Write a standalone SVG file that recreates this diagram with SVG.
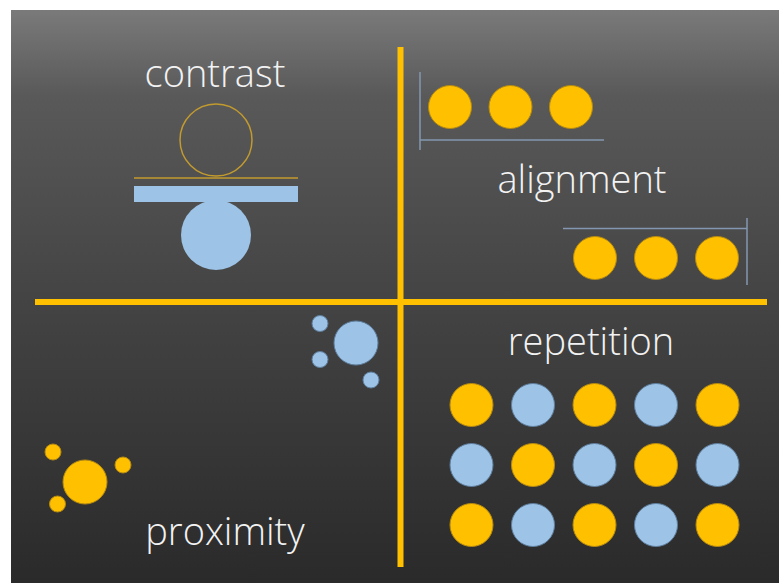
<svg xmlns="http://www.w3.org/2000/svg" width="779" height="583" viewBox="0 0 779 583">
<defs>
<linearGradient id="bg" x1="0" y1="0" x2="0" y2="1">
<stop offset="0" stop-color="#7a7a7a"/>
<stop offset="0.15" stop-color="#595959"/>
<stop offset="0.5" stop-color="#444444"/>
<stop offset="1" stop-color="#2a2a2a"/>
</linearGradient>
<style>
.lbl{font-family:"Open Sans","Liberation Sans",sans-serif;font-weight:300;font-size:38px;fill:#f2f2f2;text-anchor:middle}
.y{fill:#ffc000;stroke:#b58a10;stroke-width:1}
.b{fill:#9dc3e6;stroke:#5f7f9f;stroke-width:1}
.axis{stroke:#ffc000;stroke-width:6}
.guide{stroke:#8497b0;stroke-width:1.5;fill:none}
</style>
</defs>
<rect x="0" y="0" width="779" height="583" fill="#ffffff"/>
<rect x="11" y="10" width="768" height="573" fill="url(#bg)"/>
<g id="axes">
<line class="axis" x1="400.5" y1="47" x2="400.5" y2="567"/>
<line class="axis" x1="35" y1="302" x2="767" y2="302"/>
</g>
<g id="contrast">
<text class="lbl" x="215" y="87">contrast</text>
<circle cx="216" cy="140" r="36" fill="none" stroke="#c29a2e" stroke-width="1.5"/>
<line x1="134" y1="178" x2="298" y2="178" stroke="#c29a2e" stroke-width="1.5"/>
<rect x="134" y="186" width="164" height="16" fill="#9dc3e6"/>
<circle cx="216" cy="235" r="35" fill="#9dc3e6"/>
</g>
<g id="alignment">
<text class="lbl" x="582" y="193">alignment</text>
<path class="guide" d="M420,72 V150 M420,140 H604"/>
<circle class="y" cx="450" cy="107" r="21.5"/>
<circle class="y" cx="510.5" cy="107" r="21.5"/>
<circle class="y" cx="571" cy="107" r="21.5"/>
<path class="guide" d="M563,228.5 H747 M747,218 V285"/>
<circle class="y" cx="595" cy="258" r="21.5"/>
<circle class="y" cx="656" cy="258" r="21.5"/>
<circle class="y" cx="717" cy="258" r="21.5"/>
</g>
<g id="proximity">
<text class="lbl" x="225" y="545">proximity</text>
<circle class="b" cx="356" cy="343" r="22"/>
<circle class="b" cx="320" cy="323.5" r="8"/>
<circle class="b" cx="320" cy="359.5" r="8"/>
<circle class="b" cx="371" cy="380" r="8"/>
<circle class="y" cx="85" cy="482" r="22"/>
<circle class="y" cx="53" cy="452" r="8"/>
<circle class="y" cx="123" cy="465" r="8"/>
<circle class="y" cx="57.5" cy="504" r="8"/>
</g>
<g id="repetition">
<text class="lbl" x="591" y="355">repetition</text>
<circle class="y" cx="471.5" cy="405" r="21.5"/>
<circle class="b" cx="533" cy="405" r="21.5"/>
<circle class="y" cx="594.5" cy="405" r="21.5"/>
<circle class="b" cx="656" cy="405" r="21.5"/>
<circle class="y" cx="717.5" cy="405" r="21.5"/>
<circle class="b" cx="471.5" cy="465" r="21.5"/>
<circle class="y" cx="533" cy="465" r="21.5"/>
<circle class="b" cx="594.5" cy="465" r="21.5"/>
<circle class="y" cx="656" cy="465" r="21.5"/>
<circle class="b" cx="717.5" cy="465" r="21.5"/>
<circle class="y" cx="471.5" cy="525" r="21.5"/>
<circle class="b" cx="533" cy="525" r="21.5"/>
<circle class="y" cx="594.5" cy="525" r="21.5"/>
<circle class="b" cx="656" cy="525" r="21.5"/>
<circle class="y" cx="717.5" cy="525" r="21.5"/>
</g>
</svg>
